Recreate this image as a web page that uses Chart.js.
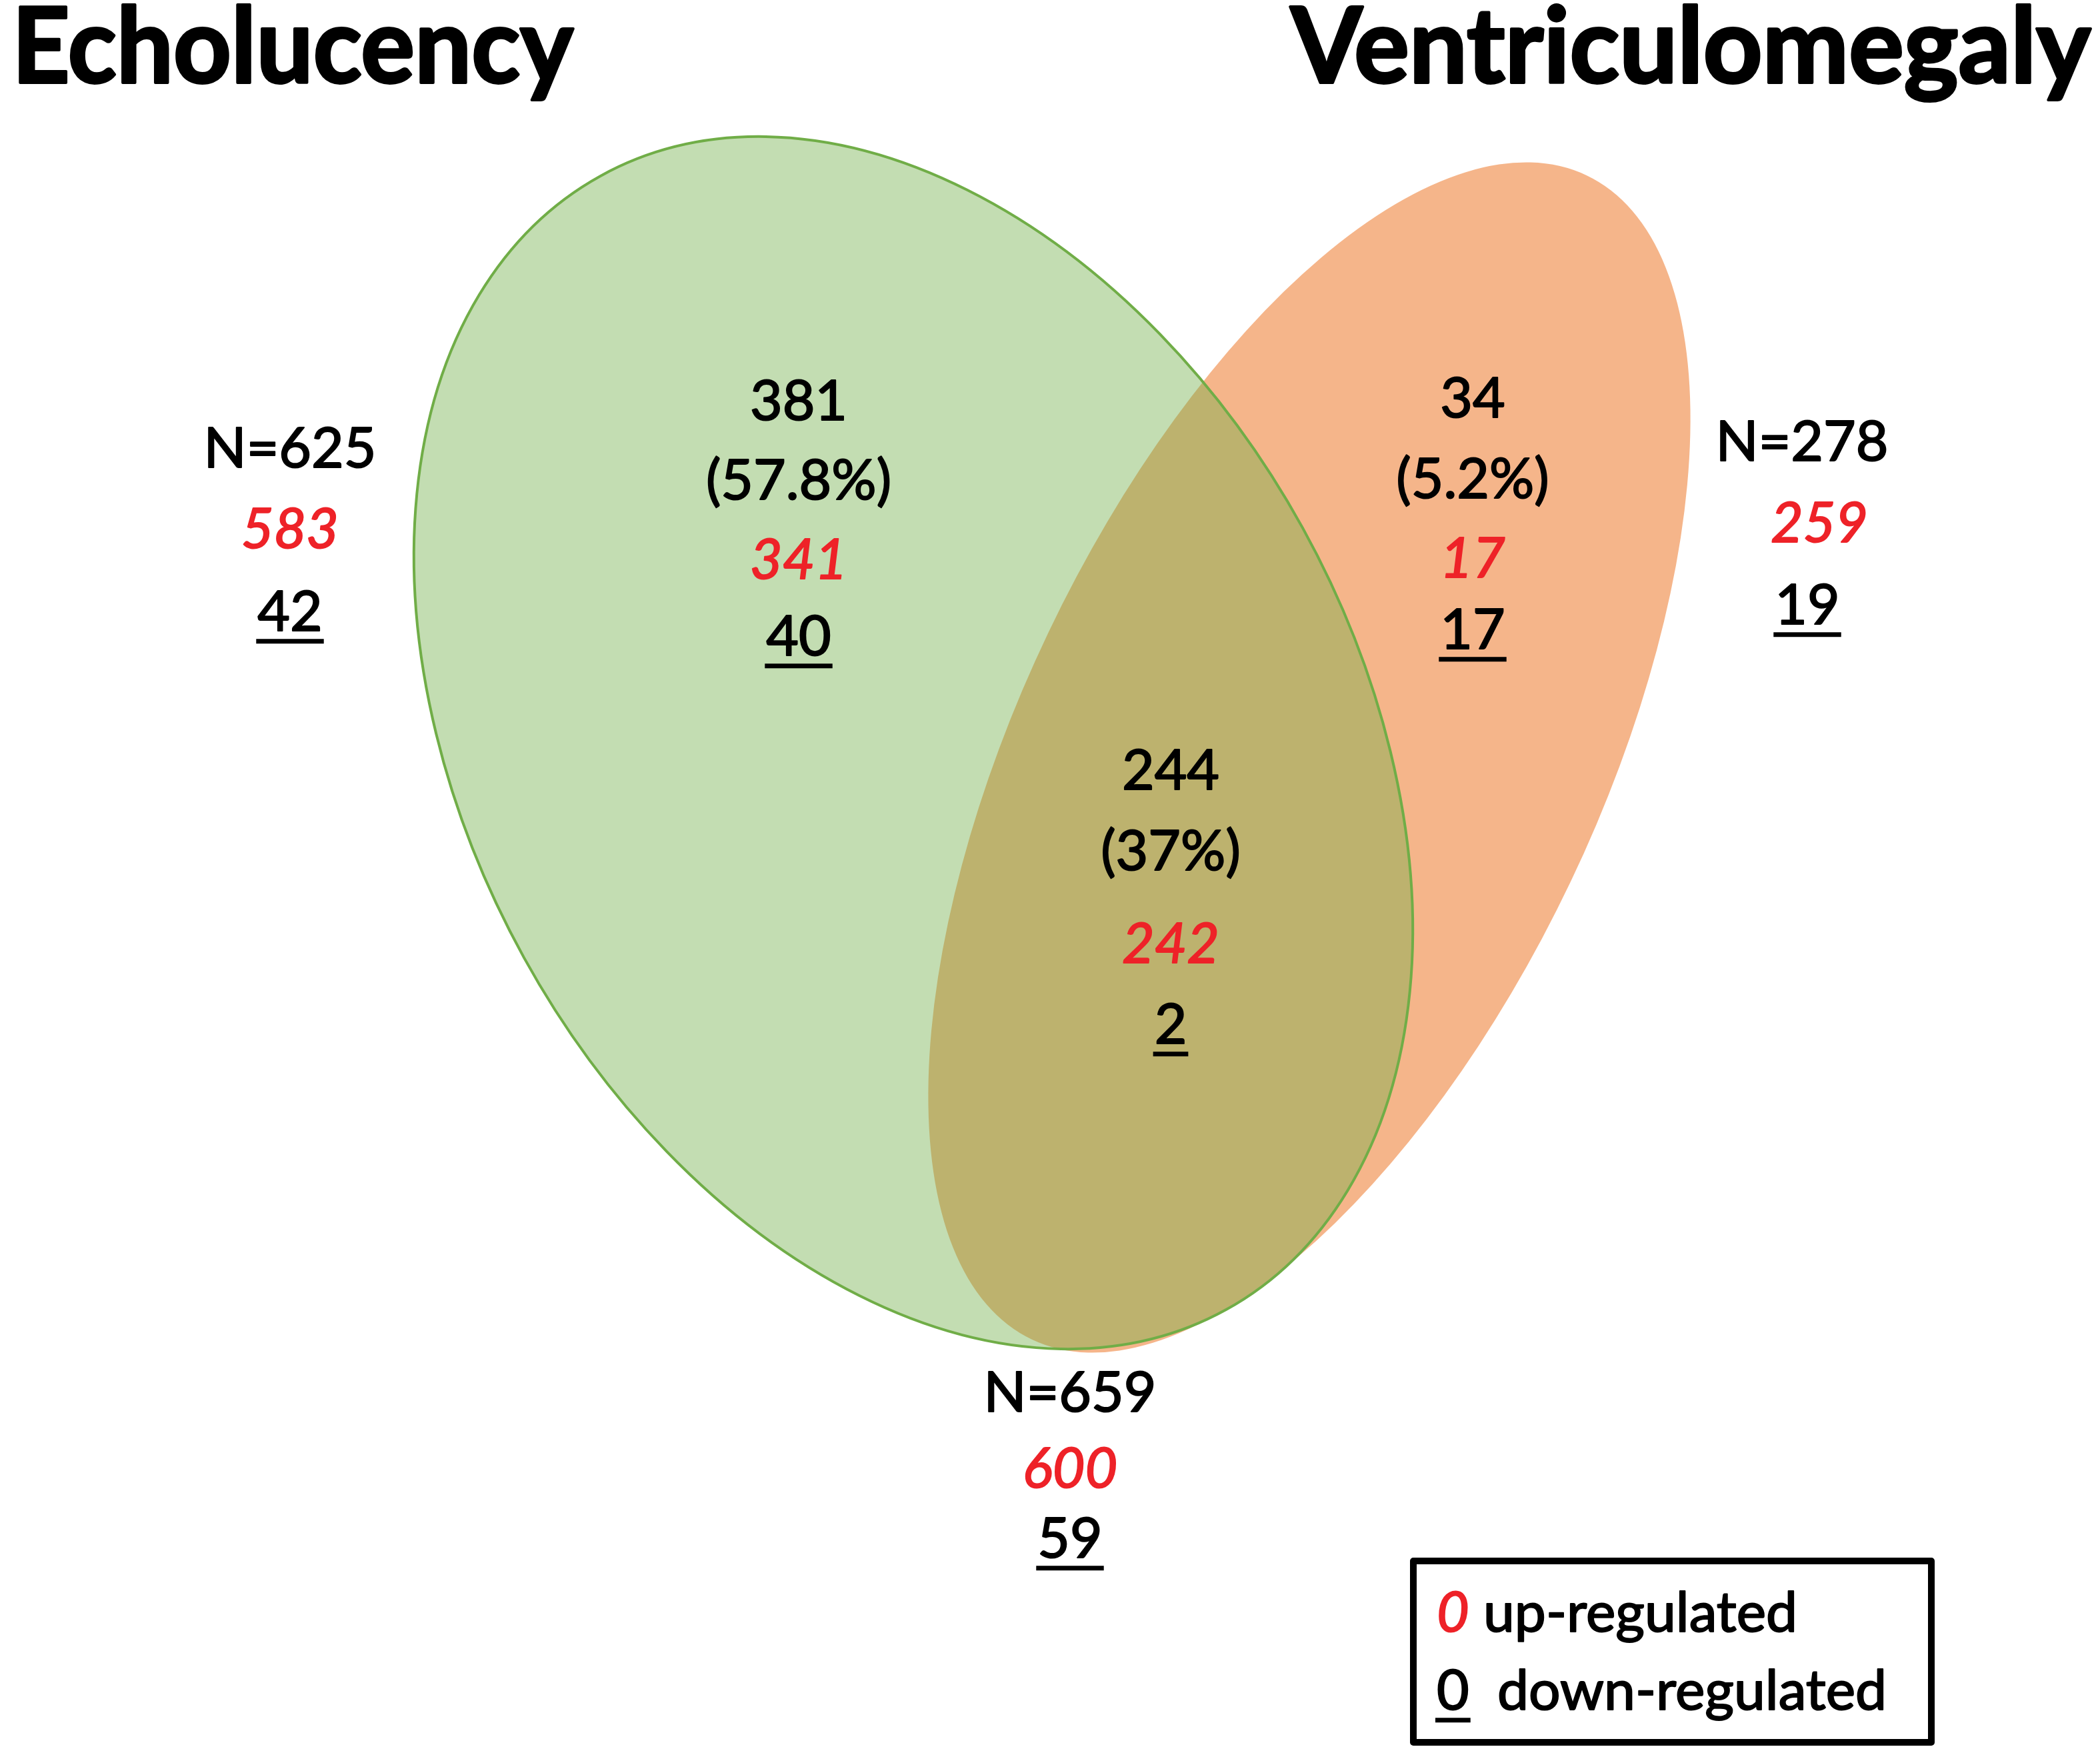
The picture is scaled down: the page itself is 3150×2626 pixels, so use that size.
<!DOCTYPE html>
<html>
<head>
<meta charset="utf-8">
<script src="https://cdn.jsdelivr.net/npm/chart.js@4"></script>
<style>
html, body { margin: 0; padding: 0; background: #fff; }
#wrap { width: 3150px; height: 2626px; }
</style>
</head>
<body>
<div id="wrap"><canvas id="venn" width="3150" height="2626"></canvas></div>
<script>
const setNames = ['Echolucency', 'Ventriculomegaly'];
// regions: Echolucency only, both, Ventriculomegaly only
const regionCounts = [381, 244, 34];
const regionPercents = ['57.8%', '37%', '5.2%'];
const regionUp = [341, 242, 17];
const regionDown = [40, 2, 17];
// totals: Echolucency, Ventriculomegaly, union
const totalCounts = [625, 278, 659];
const totalUp = [583, 259, 600];
const totalDown = [42, 19, 59];
const legendLabels = ['up-regulated', 'down-regulated'];

// geometry, in axis units (1 unit = 1 px of the 3150x2626 frame)
const ellipses = [
    { cx: 1964, cy: 1136, rx: 434, ry: 967, rot: 25.5, fill: 'rgba(237,125,49,0.57)', stroke: null },
    { cx: 1370, cy: 1114, rx: 667, ry: 971, rot: -28.9, fill: 'rgba(112,173,71,0.42)', stroke: '#70ad47' }
];
const regionAnchors = [
    { x: 1198, rows: [600, 719, 838, 953] },
    { x: 1756, rows: [1154, 1275, 1414, 1535] },
    { x: 2209, rows: [596, 717, 836, 943] }
];
const totalAnchors = [
    { xs: [435, 435, 435], rows: [671, 792, 916] },
    { xs: [2703, 2729, 2711], rows: [661, 783, 906] },
    { xs: [1605, 1605, 1605], rows: [2087, 2201, 2306] }
];

const RED = '#ee2228';
const FONT = 'Lato, "Open Sans", sans-serif';
const SIZE = 84;

function label(ctx, sx, sy, text, x, yMid, opts) {
    const px = sx.getPixelForValue(x);
    const py = sy.getPixelForValue(yMid);
    const size = opts.size || SIZE;
    const color = opts.color || '#000';
    ctx.font = (opts.italic ? 'italic ' : '') + size + 'px ' + FONT;
    ctx.fillStyle = color;
    ctx.strokeStyle = color;
    ctx.lineWidth = 2;
    ctx.lineJoin = 'round';
    ctx.textAlign = opts.align || 'center';
    ctx.textBaseline = 'alphabetic';
    const base = py + size * 0.36;
    ctx.fillText(text, px, base);
    ctx.strokeText(text, px, base);
    if (opts.underline) {
        const w = ctx.measureText(text).width;
        const left = ctx.textAlign === 'center' ? px - w / 2 : px;
        ctx.fillRect(left - 2, base + 12, w + 4, 7);
    }
}

const vennPlugin = {
    id: 'venn',
    beforeDatasetsDraw(chart) {
        const ctx = chart.ctx;
        const sx = chart.scales.x, sy = chart.scales.y;
        ctx.save();
        ctx.fillStyle = '#fff';
        ctx.fillRect(0, 0, chart.width, chart.height);
        ellipses.forEach(e => {
            const cx = sx.getPixelForValue(e.cx), cy = sy.getPixelForValue(e.cy);
            const rx = Math.abs(sx.getPixelForValue(e.cx + e.rx) - cx);
            const ry = Math.abs(sy.getPixelForValue(e.cy + e.ry) - cy);
            ctx.beginPath();
            ctx.ellipse(cx, cy, rx, ry, e.rot * Math.PI / 180, 0, Math.PI * 2);
            ctx.fillStyle = e.fill;
            ctx.fill();
            if (e.stroke) {
                ctx.lineWidth = 4;
                ctx.strokeStyle = e.stroke;
                ctx.stroke();
            }
        });
        ctx.restore();
    },
    afterDatasetsDraw(chart) {
        const ctx = chart.ctx;
        const sx = chart.scales.x, sy = chart.scales.y;
        ctx.save();

        // set titles
        ctx.fillStyle = '#000';
        ctx.strokeStyle = '#000';
        ctx.lineWidth = 4;
        ctx.lineJoin = 'round';
        ctx.font = 'bold 158px ' + FONT;
        ctx.textBaseline = 'alphabetic';
        ctx.textAlign = 'left';
        ctx.fillText(setNames[0], sx.getPixelForValue(18), sy.getPixelForValue(124), 842);
        ctx.strokeText(setNames[0], sx.getPixelForValue(18), sy.getPixelForValue(124), 842);
        ctx.textAlign = 'right';
        ctx.fillText(setNames[1], sx.getPixelForValue(3136), sy.getPixelForValue(124), 1200);
        ctx.strokeText(setNames[1], sx.getPixelForValue(3136), sy.getPixelForValue(124), 1200);

        // region labels
        regionAnchors.forEach((a, i) => {
            label(ctx, sx, sy, String(regionCounts[i]), a.x, a.rows[0], {});
            label(ctx, sx, sy, '(' + regionPercents[i] + ')', a.x, a.rows[1], {});
            label(ctx, sx, sy, String(regionUp[i]), a.x, a.rows[2], { italic: true, color: RED });
            label(ctx, sx, sy, String(regionDown[i]), a.x, a.rows[3], { underline: true });
        });

        // totals
        totalAnchors.forEach((a, i) => {
            label(ctx, sx, sy, 'N=' + totalCounts[i], a.xs[0], a.rows[0], {});
            label(ctx, sx, sy, String(totalUp[i]), a.xs[1], a.rows[1], { italic: true, color: RED });
            label(ctx, sx, sy, String(totalDown[i]), a.xs[2], a.rows[2], { underline: true });
        });

        // legend box
        const bx0 = sx.getPixelForValue(2120), bx1 = sx.getPixelForValue(2897);
        const by0 = sy.getPixelForValue(2341), by1 = sy.getPixelForValue(2613);
        ctx.lineWidth = 10;
        ctx.strokeStyle = '#000';
        ctx.strokeRect(bx0, by0, bx1 - bx0, by1 - by0);
        label(ctx, sx, sy, '0', 2155, 2417, { italic: true, color: RED, align: 'left' });
        label(ctx, sx, sy, legendLabels[0], 2225, 2417, { align: 'left' });
        label(ctx, sx, sy, '0', 2155, 2534, { underline: true, align: 'left' });
        label(ctx, sx, sy, legendLabels[1], 2246, 2534, { align: 'left' });

        ctx.restore();
    }
};

new Chart(document.getElementById('venn').getContext('2d'), {
    type: 'scatter',
    data: { datasets: [] },
    options: {
        responsive: false,
        animation: false,
        devicePixelRatio: 1,
        layout: { padding: 0 },
        scales: {
            x: { type: 'linear', min: 0, max: 3150, display: false },
            y: { type: 'linear', min: 0, max: 2626, reverse: true, display: false }
        },
        plugins: {
            legend: { display: false },
            tooltip: { enabled: false }
        }
    },
    plugins: [vennPlugin]
});
</script>
</body>
</html>
